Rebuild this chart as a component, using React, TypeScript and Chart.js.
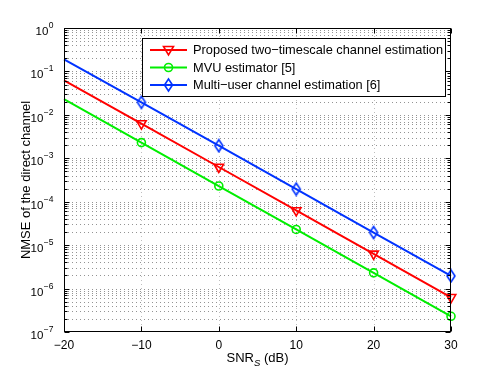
import React, { useEffect, useRef } from "react";
import { Chart, registerables } from "chart.js";

Chart.register(...registerables);

const snrDb = [-20, -10, 0, 10, 20, 30];
const proposedNmse = [6.2e-2, 6.3e-3, 6.3e-4, 6.3e-5, 6.3e-6, 6.3e-7];
const mvuNmse = [2.3e-2, 2.3e-3, 2.3e-4, 2.3e-5, 2.3e-6, 2.3e-7];
const multiUserNmse = [1.9e-1, 1.95e-2, 1.95e-3, 1.95e-4, 1.95e-5, 1.95e-6];
const seriesNames = [
  "Proposed two\u2212timescale channel estimation",
  "MVU estimator [5]",
  "Multi\u2212user channel estimation [6]",
];
const xTickValues = [-20, -10, 0, 10, 20, 30];
const xTickLabels = ["\u221220", "\u221210", "0", "10", "20", "30"];
const yExponents = [0, -1, -2, -3, -4, -5, -6, -7];

const RED = "#ff0000";
const GREEN = "#00ee00";
const BLUE = "#0033ff";
const FONT = '"Liberation Sans", Arial, Helvetica, sans-serif';

function drawMarker(ctx: CanvasRenderingContext2D, kind: string, x: number, y: number, color: string) {
  ctx.save();
  ctx.strokeStyle = color;
  ctx.lineWidth = 1.6;
  ctx.setLineDash([]);
  ctx.beginPath();
  if (kind === "tri") {
    ctx.moveTo(x - 5, y - 3.5);
    ctx.lineTo(x + 5, y - 3.5);
    ctx.lineTo(x, y + 5);
    ctx.closePath();
  } else if (kind === "circ") {
    ctx.arc(x, y, 4, 0, Math.PI * 2);
  } else {
    ctx.moveTo(x, y - 6);
    ctx.lineTo(x + 4, y);
    ctx.lineTo(x, y + 6);
    ctx.lineTo(x - 4, y);
    ctx.closePath();
  }
  ctx.stroke();
  ctx.restore();
}

const matlabAxes = {
  id: "matlabAxes",
  beforeDatasetsDraw(chart: any) {
    const { ctx, chartArea: a, scales } = chart;
    const x = scales.x;
    const y = scales.y;
    ctx.save();
    ctx.lineWidth = 1;
    ctx.setLineDash([1, 3]);
    ctx.strokeStyle = "rgba(0,0,0,0.42)";
    for (let e = -7; e < 0; e++) {
      for (let m = 1; m <= 9; m++) {
        if (m === 1 && e === -7) continue;
        const py = Math.round(y.getPixelForValue(m * Math.pow(10, e))) + 0.5;
        ctx.beginPath();
        ctx.moveTo(a.left, py);
        ctx.lineTo(a.right, py);
        ctx.stroke();
      }
    }
    ctx.strokeStyle = "rgba(0,0,0,0.25)";
    for (const v of xTickValues.slice(1, -1)) {
      const px = Math.round(x.getPixelForValue(v)) + 0.5;
      ctx.beginPath();
      ctx.moveTo(px, a.top);
      ctx.lineTo(px, a.bottom);
      ctx.stroke();
    }
    ctx.restore();
  },
  afterDraw(chart: any) {
    const { ctx, chartArea: a, scales } = chart;
    const x = scales.x;
    const y = scales.y;
    ctx.save();
    ctx.setLineDash([]);
    ctx.strokeStyle = "#000";
    ctx.lineWidth = 1;
    const L = Math.round(a.left) + 0.5;
    const R = Math.round(a.right) - 0.5;
    const T = Math.round(a.top) + 0.5;
    const B = Math.round(a.bottom) - 0.5;
    // ticks
    ctx.beginPath();
    for (const v of xTickValues) {
      const px = Math.round(x.getPixelForValue(v)) + 0.5;
      ctx.moveTo(px, B);
      ctx.lineTo(px, B - 5);
      ctx.moveTo(px, T);
      ctx.lineTo(px, T + 5);
    }
    for (let e = -7; e <= 0; e++) {
      for (let m = 1; m <= 9; m++) {
        if (e === 0 && m > 1) continue;
        const py = Math.round(y.getPixelForValue(m * Math.pow(10, e))) + 0.5;
        const len = m === 1 ? 5 : 3;
        ctx.moveTo(L, py);
        ctx.lineTo(L + len, py);
        ctx.moveTo(R, py);
        ctx.lineTo(R - len, py);
      }
    }
    ctx.stroke();
    // box
    ctx.strokeRect(L, T, R - L, B - T);

    // tick labels
    ctx.fillStyle = "#000";
    ctx.textBaseline = "alphabetic";
    ctx.font = `12px ${FONT}`;
    ctx.textAlign = "center";
    xTickValues.forEach((v, i) => {
      const px = x.getPixelForValue(v);
      ctx.fillText(xTickLabels[i], px, B + 17);
    });
    ctx.textAlign = "left";
    for (const e of yExponents) {
      const py = y.getPixelForValue(Math.pow(10, e));
      const sup = e === 0 ? "0" : "\u2212" + String(-e);
      ctx.font = `8.5px ${FONT}`;
      const supW = ctx.measureText(sup).width;
      ctx.font = `11.5px ${FONT}`;
      const baseW = ctx.measureText("10").width;
      const right = a.left - 10.5;
      ctx.fillText("10", right - supW - baseW - 0.5, py + 7);
      ctx.font = `8.5px ${FONT}`;
      ctx.fillText(sup, right - supW, py);
    }

    // x title
    ctx.font = `13px ${FONT}`;
    const p1 = "SNR";
    const p3 = " (dB)";
    const w1 = ctx.measureText(p1).width;
    const w3 = ctx.measureText(p3).width;
    ctx.font = `italic 9.5px ${FONT}`;
    const w2 = ctx.measureText("S").width;
    const cx = (a.left + a.right) / 2;
    let sx = cx - (w1 + w2 + w3) / 2;
    ctx.font = `13px ${FONT}`;
    ctx.fillText(p1, sx, 362);
    sx += w1;
    ctx.font = `italic 9.5px ${FONT}`;
    ctx.fillText("S", sx, 366);
    sx += w2;
    ctx.font = `13px ${FONT}`;
    ctx.fillText(p3, sx, 362);

    // y title
    ctx.save();
    ctx.translate(26, (a.top + a.bottom) / 2);
    ctx.rotate(-Math.PI / 2);
    ctx.textAlign = "center";
    ctx.textBaseline = "middle";
    ctx.font = `13px ${FONT}`;
    ctx.fillText("NMSE of the direct channel", 0, 0);
    ctx.restore();

    // legend
    const lx0 = 142.5, ly0 = 38.5, lx1 = 445.5, ly1 = 96.5;
    ctx.fillStyle = "#fff";
    ctx.fillRect(lx0, ly0, lx1 - lx0, ly1 - ly0);
    ctx.strokeStyle = "#000";
    ctx.lineWidth = 1;
    ctx.strokeRect(lx0, ly0, lx1 - lx0, ly1 - ly0);
    const rows = [50, 67.5, 85];
    const colors = [RED, GREEN, BLUE];
    const kinds = ["tri", "circ", "dia"];
    rows.forEach((ry, i) => {
      ctx.strokeStyle = colors[i];
      ctx.lineWidth = 2;
      ctx.beginPath();
      ctx.moveTo(150, ry);
      ctx.lineTo(187, ry);
      ctx.stroke();
      drawMarker(ctx, kinds[i], 168.5, ry, colors[i]);
      ctx.fillStyle = "#000";
      ctx.font = `12.8px ${FONT}`;
      ctx.textAlign = "left";
      ctx.textBaseline = "middle";
      ctx.fillText(seriesNames[i], 193, ry + 0.5);
    });
    ctx.restore();
  },
};

function makeDiamond(color: string): HTMLCanvasElement {
  const c = document.createElement("canvas");
  c.width = 12;
  c.height = 15;
  const g = c.getContext("2d")!;
  drawMarker(g, "dia", 6, 7.5, color);
  return c;
}

export default function App() {
  const ref = useRef<HTMLCanvasElement | null>(null);
  useEffect(() => {
    if (!ref.current) return;
    const radii = snrDb.map((v) => (v === -20 ? 0 : 5));
    const chart = new Chart(ref.current, {
      type: "line",
      data: {
        labels: snrDb,
        datasets: [
          {
            label: seriesNames[0],
            data: snrDb.map((v, i) => ({ x: v, y: proposedNmse[i] })),
            borderColor: RED,
            backgroundColor: "rgba(0,0,0,0)",
            borderWidth: 2,
            pointStyle: "triangle",
            rotation: 180,
            pointRadius: radii.map((r) => (r ? 5.5 : 0)),
            pointBorderWidth: 1.6,
            pointBorderColor: RED,
            pointBackgroundColor: "rgba(0,0,0,0)",
            clip: false as any,
          },
          {
            label: seriesNames[1],
            data: snrDb.map((v, i) => ({ x: v, y: mvuNmse[i] })),
            borderColor: GREEN,
            backgroundColor: "rgba(0,0,0,0)",
            borderWidth: 2,
            pointStyle: "circle",
            pointRadius: radii.map((r) => (r ? 4 : 0)),
            pointBorderWidth: 1.6,
            pointBorderColor: GREEN,
            pointBackgroundColor: "rgba(0,0,0,0)",
            clip: false as any,
          },
          {
            label: seriesNames[2],
            data: snrDb.map((v, i) => ({ x: v, y: multiUserNmse[i] })),
            borderColor: BLUE,
            backgroundColor: "rgba(0,0,0,0)",
            borderWidth: 2,
            pointStyle: makeDiamond(BLUE) as any,
            pointRadius: radii,
            pointBorderColor: BLUE,
            pointBackgroundColor: "rgba(0,0,0,0)",
            clip: false as any,
          },
        ],
      },
      options: {
        animation: false,
        responsive: true,
        maintainAspectRatio: false,
        layout: { padding: { left: 64, right: 47, top: 28, bottom: 42 } },
        plugins: { legend: { display: false }, tooltip: { enabled: false } },
        scales: {
          x: { type: "linear", min: -20, max: 30, display: false },
          y: { type: "logarithmic", min: 1e-7, max: 1, display: false },
        },
      },
      plugins: [matlabAxes],
    });
    return () => chart.destroy();
  }, []);
  return (
    <div style={{ position: "fixed", left: 0, top: 0, width: 498, height: 374, background: "#fff" }}>
      <canvas ref={ref} />
    </div>
  );
}
